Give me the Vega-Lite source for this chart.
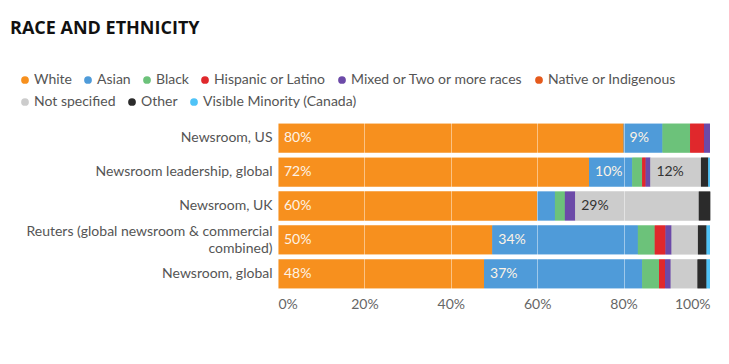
{
  "$schema": "https://vega.github.io/schema/vega-lite/v6.json",
  "autosize": "none",
  "width": 432,
  "height": 170,
  "padding": {"left": 278, "top": 121, "right": 19, "bottom": 73},
  "background": "white",
  "title": {
    "text": "RACE AND ETHNICITY",
    "anchor": "start",
    "frame": "group",
    "dx": -268,
    "fontSize": 18,
    "font": "Open Sans",
    "fontWeight": "bold",
    "color": "#111111",
    "offset": 35
  },
  "config": {
    "view": {"stroke": null},
    "font": "Lato"
  },
  "data": {
    "values": [
      {"group": "Newsroom, US", "cat": "White", "v": 0.80},
      {"group": "Newsroom, US", "cat": "Asian", "v": 0.09},
      {"group": "Newsroom, US", "cat": "Black", "v": 0.064},
      {"group": "Newsroom, US", "cat": "Hispanic or Latino", "v": 0.032},
      {"group": "Newsroom, US", "cat": "Mixed or Two or more races", "v": 0.014},
      {"group": "Newsroom leadership, global", "cat": "White", "v": 0.72},
      {"group": "Newsroom leadership, global", "cat": "Asian", "v": 0.10},
      {"group": "Newsroom leadership, global", "cat": "Black", "v": 0.023},
      {"group": "Newsroom leadership, global", "cat": "Hispanic or Latino", "v": 0.008},
      {"group": "Newsroom leadership, global", "cat": "Mixed or Two or more races", "v": 0.011},
      {"group": "Newsroom leadership, global", "cat": "Not specified", "v": 0.117},
      {"group": "Newsroom leadership, global", "cat": "Other", "v": 0.017},
      {"group": "Newsroom leadership, global", "cat": "Visible Minority (Canada)", "v": 0.004},
      {"group": "Newsroom, UK", "cat": "White", "v": 0.60},
      {"group": "Newsroom, UK", "cat": "Asian", "v": 0.041},
      {"group": "Newsroom, UK", "cat": "Black", "v": 0.023},
      {"group": "Newsroom, UK", "cat": "Mixed or Two or more races", "v": 0.024},
      {"group": "Newsroom, UK", "cat": "Not specified", "v": 0.286},
      {"group": "Newsroom, UK", "cat": "Other", "v": 0.027},
      {"group": "Reuters (global newsroom & commercial combined)", "cat": "White", "v": 0.496},
      {"group": "Reuters (global newsroom & commercial combined)", "cat": "Asian", "v": 0.337},
      {"group": "Reuters (global newsroom & commercial combined)", "cat": "Black", "v": 0.039},
      {"group": "Reuters (global newsroom & commercial combined)", "cat": "Hispanic or Latino", "v": 0.025},
      {"group": "Reuters (global newsroom & commercial combined)", "cat": "Mixed or Two or more races", "v": 0.014},
      {"group": "Reuters (global newsroom & commercial combined)", "cat": "Not specified", "v": 0.061},
      {"group": "Reuters (global newsroom & commercial combined)", "cat": "Other", "v": 0.020},
      {"group": "Reuters (global newsroom & commercial combined)", "cat": "Visible Minority (Canada)", "v": 0.008},
      {"group": "Newsroom, global", "cat": "White", "v": 0.477},
      {"group": "Newsroom, global", "cat": "Asian", "v": 0.366},
      {"group": "Newsroom, global", "cat": "Black", "v": 0.039},
      {"group": "Newsroom, global", "cat": "Hispanic or Latino", "v": 0.014},
      {"group": "Newsroom, global", "cat": "Mixed or Two or more races", "v": 0.013},
      {"group": "Newsroom, global", "cat": "Not specified", "v": 0.062},
      {"group": "Newsroom, global", "cat": "Other", "v": 0.021},
      {"group": "Newsroom, global", "cat": "Visible Minority (Canada)", "v": 0.008}
    ]
  },
  "transform": [
    {"stack": "v", "groupby": ["group"], "as": ["v0", "v1"]}
  ],
  "encoding": {
    "y": {
      "field": "group",
      "type": "nominal",
      "sort": null,
      "title": null,
      "scale": {"paddingInner": 0.15, "paddingOuter": 0.08},
      "axis": {
        "domain": false,
        "ticks": false,
        "labelPadding": 6,
        "labelFontSize": 14,
        "labelColor": "#555555",
        "labelLimit": 300,
        "labelLineHeight": 17,
        "labelOffset": {"condition": {"test": "datum.value == 'Reuters (global newsroom & commercial combined)'", "value": -8}, "value": 0},
        "labelExpr": "datum.label == 'Reuters (global newsroom & commercial combined)' ? ['Reuters (global newsroom & commercial', 'combined)'] : datum.label"
      }
    }
  },
  "resolve": {"scale": {"color": "independent"}},
  "layer": [
    {
      "mark": {"type": "bar"},
      "encoding": {
        "x": {
          "field": "v0",
          "type": "quantitative",
          "title": null,
          "scale": {"domain": [0, 1], "nice": false},
          "axis": {
            "values": [0, 0.2, 0.4, 0.6, 0.8, 1],
            "format": ".0%",
            "domain": false,
            "ticks": false,
            "grid": true,
            "gridColor": "#ffffff",
            "gridOpacity": 0.45,
            "gridWidth": 1,
            "zindex": 1,
            "labelFontSize": 14,
            "labelColor": "#666666",
            "labelPadding": 6
          }
        },
        "x2": {"field": "v1"},
        "color": {
          "field": "cat",
          "type": "nominal",
          "scale": {
            "domain": ["White", "Asian", "Black", "Hispanic or Latino", "Mixed or Two or more races", "Native or Indigenous", "Not specified", "Other", "Visible Minority (Canada)"],
            "range": ["#f7901e", "#4f9bd9", "#6cc27a", "#e0282c", "#6c4aa8", "#e55a1c", "#cccccc", "#2b2b2b", "#4fc3f7"]
          },
          "legend": {
            "title": null,
            "orient": "none",
            "legendX": -260,
            "legendY": -48,
            "direction": "horizontal",
            "values": ["White", "Asian", "Black", "Hispanic or Latino", "Mixed or Two or more races", "Native or Indigenous"],
            "symbolType": "circle",
            "symbolSize": 60,
            "symbolStrokeWidth": 0,
            "labelFontSize": 14,
            "labelColor": "#555555",
            "labelOffset": 2,
            "columnPadding": 9,
            "labelLimit": 300
          }
        }
      }
    },
    {
      "mark": {"type": "bar"},
      "encoding": {
        "x": {"field": "v0", "type": "quantitative"},
        "x2": {"field": "v1"},
        "color": {
          "field": "cat",
          "type": "nominal",
          "scale": {
            "domain": ["White", "Asian", "Black", "Hispanic or Latino", "Mixed or Two or more races", "Native or Indigenous", "Not specified", "Other", "Visible Minority (Canada)"],
            "range": ["#f7901e", "#4f9bd9", "#6cc27a", "#e0282c", "#6c4aa8", "#e55a1c", "#cccccc", "#2b2b2b", "#4fc3f7"]
          },
          "legend": {
            "title": null,
            "orient": "none",
            "legendX": -260,
            "legendY": -26,
            "direction": "horizontal",
            "values": ["Not specified", "Other", "Visible Minority (Canada)"],
            "symbolType": "circle",
            "symbolSize": 60,
            "symbolStrokeWidth": 0,
            "labelFontSize": 14,
            "labelColor": "#555555",
            "labelOffset": 2,
            "columnPadding": 9,
            "labelLimit": 300
          }
        }
      }
    },
    {
      "transform": [{"filter": "datum.v >= 0.08"}],
      "mark": {"type": "text", "align": "left", "baseline": "middle", "dx": 6, "fontSize": 14},
      "encoding": {
        "x": {"field": "v0", "type": "quantitative"},
        "text": {"field": "v", "type": "quantitative", "format": ".0%"},
        "color": {
          "condition": {"test": "datum.cat == 'Not specified'", "value": "#333333"},
          "value": "#fdf3e6"
        }
      }
    }
  ]
}
